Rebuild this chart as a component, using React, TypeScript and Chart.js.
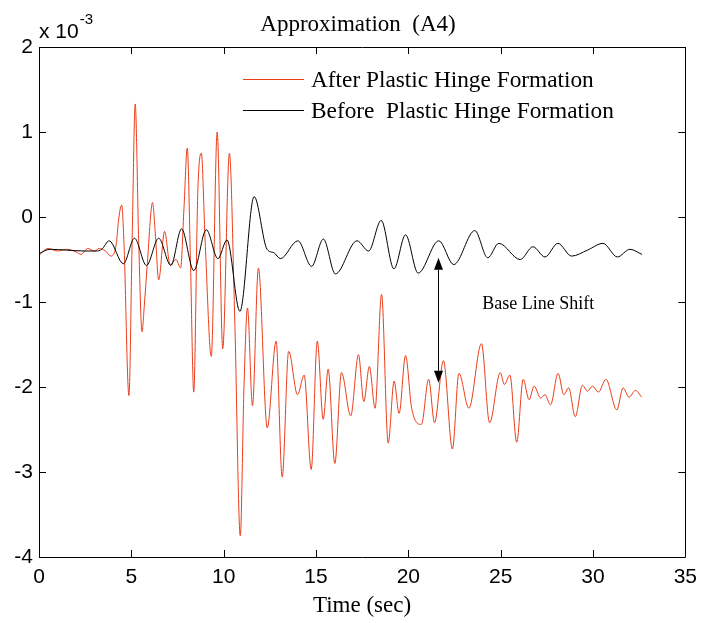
import React, { useEffect, useRef } from "react";
import { Chart, registerables } from "chart.js";

Chart.register(...registerables);

// [time (sec), value (x 10^-3)]
const afterHinge: [number, number][] = [
  [0, -0.45], [0.5, -0.37], [1.0, -0.4], [1.5, -0.38], [2.0, -0.41], [2.28, -0.44], [2.64, -0.37],
  [3.0, -0.4], [3.26, -0.37], [3.6, -0.4], [3.89, -0.46], [4.19, -0.31], [4.3, -0.05], [4.48, 0.14],
  [4.6, -0.3], [4.87, -2.1], [5.05, -0.2], [5.21, 1.33], [5.4, -0.3], [5.58, -1.35], [5.7, -1.05],
  [5.85, -0.6], [6.15, 0.17], [6.3, -0.2], [6.48, -0.74], [6.8, -0.17], [7.1, -0.56], [7.42, -0.5],
  [7.67, -0.6], [7.85, 0.1], [8.03, 0.81], [8.2, -0.5], [8.38, -2.06], [8.6, 0.3], [8.79, 0.75],
  [9.0, -0.3], [9.33, -1.64], [9.65, 1.0], [9.95, -1.55], [10.31, 0.75], [10.6, -1.2], [10.9, -3.75],
  [11.1, -2.0], [11.29, -1.07], [11.56, -2.22], [11.88, -0.6], [12.36, -2.48], [12.84, -1.46],
  [13.17, -3.06], [13.52, -1.58], [14.0, -2.09], [14.36, -1.86], [14.74, -2.97], [15.07, -1.46],
  [15.39, -2.38], [15.66, -1.79], [16.02, -2.9], [16.38, -1.83], [16.88, -2.34], [17.3, -1.62],
  [17.59, -2.17], [17.89, -1.76], [18.2, -2.25], [18.55, -0.91], [18.91, -2.66], [19.23, -1.93],
  [19.5, -2.31], [19.85, -1.63], [20.18, -2.25], [20.71, -2.44], [21.1, -1.91], [21.42, -2.42],
  [21.9, -1.69], [22.39, -2.73], [22.74, -1.84], [23.28, -2.25], [23.96, -1.49], [24.4, -2.42],
  [24.98, -1.83], [25.2, -1.97], [25.5, -1.86], [25.87, -2.65], [26.22, -1.91], [26.54, -2.15],
  [26.81, -1.99], [27.17, -2.13], [27.4, -2.09], [27.7, -2.21], [28.11, -1.84], [28.42, -2.09],
  [28.68, -2.01], [29.04, -2.35], [29.43, -1.98], [29.7, -2.05], [29.97, -1.99], [30.29, -2.06],
  [30.7, -1.91], [31.29, -2.27], [31.63, -2.01], [31.95, -2.12], [32.3, -2.04], [32.64, -2.12],
];

const beforeHinge: [number, number][] = [
  [0, -0.43], [0.59, -0.38], [1.5, -0.39], [2.5, -0.4], [3.09, -0.4], [3.4, -0.38], [3.8, -0.28],
  [4.57, -0.55], [5.17, -0.25], [5.82, -0.57], [6.48, -0.25], [7.14, -0.57], [7.72, -0.14],
  [8.38, -0.63], [9.06, -0.15], [9.69, -0.49], [10.18, -0.27], [10.88, -1.11], [11.65, 0.24],
  [12.35, -0.38], [12.72, -0.42], [13.07, -0.49], [14.02, -0.28], [14.76, -0.58], [15.4, -0.26],
  [16.05, -0.67], [17.22, -0.28], [17.85, -0.4], [18.53, -0.04], [19.22, -0.61], [19.85, -0.21],
  [20.53, -0.66], [21.65, -0.28], [22.46, -0.56], [23.6, -0.16], [24.3, -0.48], [24.9, -0.31],
  [26.06, -0.5], [26.75, -0.35], [27.4, -0.47], [28.1, -0.31], [28.84, -0.46], [29.7, -0.39],
  [30.54, -0.31], [31.32, -0.47], [32.0, -0.38], [32.65, -0.44],
];

const xTicks = [0, 5, 10, 15, 20, 25, 30, 35];
const yTicks = [-4, -3, -2, -1, 0, 1, 2];
const seriesNames = ["After Plastic Hinge Formation", "Before  Plastic Hinge Formation"];
const seriesColors = ["rgb(234,62,26)", "#000000"];
const titleText = "Approximation  (A4)";
const xAxisLabel = "Time (sec)";
const multiplierBase = "x 10";
const multiplierExp = "-3";
const arrowTime = 21.6;
const arrowTop = -0.48;
const arrowBottom = -1.95;
const noteText = "Base Line Shift";
const noteTime = 24.0;
const noteValue = -1.03;

const SANS = "'Liberation Sans', Arial, sans-serif";
const SERIF = "'Liberation Serif', 'Times New Roman', serif";

const decorPlugin = {
  id: "decor",
  afterDraw(chart: any) {
    const ctx = chart.ctx as CanvasRenderingContext2D;
    const { left, right, top, bottom } = chart.chartArea;
    const xs = chart.scales.x;
    const ys = chart.scales.y;
    ctx.save();
    // box
    ctx.strokeStyle = "#000";
    ctx.lineWidth = 1;
    ctx.beginPath();
    ctx.rect(Math.round(left) + 0.5, Math.round(top) + 0.5, Math.round(right - left), Math.round(bottom - top));
    ctx.stroke();
    // inward ticks
    const tl = 7;
    ctx.beginPath();
    xTicks.forEach((v) => {
      const px = Math.round(xs.getPixelForValue(v)) + 0.5;
      ctx.moveTo(px, bottom);
      ctx.lineTo(px, bottom - tl);
      ctx.moveTo(px, top);
      ctx.lineTo(px, top + tl);
    });
    yTicks.forEach((v) => {
      const py = Math.round(ys.getPixelForValue(v)) + 0.5;
      ctx.moveTo(left, py);
      ctx.lineTo(left + tl, py);
      ctx.moveTo(right, py);
      ctx.lineTo(right - tl, py);
    });
    ctx.stroke();

    // title
    ctx.fillStyle = "#000";
    ctx.font = `23px ${SERIF}`;
    ctx.textAlign = "center";
    ctx.textBaseline = "alphabetic";
    ctx.fillText(titleText, 358, 31);
    // x label
    ctx.font = `23px ${SERIF}`;
    ctx.fillText(xAxisLabel, 362, 612);
    // multiplier
    ctx.textAlign = "left";
    ctx.font = `21px ${SANS}`;
    ctx.fillText(multiplierBase, 39, 38);
    const w = ctx.measureText(multiplierBase).width;
    ctx.font = `15px ${SANS}`;
    ctx.fillText(multiplierExp, 39 + w + 1, 24);

    // legend
    ctx.font = `23.3px ${SERIF}`;
    const legendY = [79, 110];
    seriesNames.forEach((name, i) => {
      ctx.strokeStyle = seriesColors[i];
      ctx.lineWidth = 1;
      ctx.beginPath();
      ctx.moveTo(243, legendY[i] + 0.5);
      ctx.lineTo(304, legendY[i] + 0.5);
      ctx.stroke();
      ctx.fillStyle = "#000";
      ctx.fillText(name, 311, legendY[i] + 8);
    });

    // arrow
    const ax = Math.round(xs.getPixelForValue(arrowTime)) + 0.5;
    const ay1 = ys.getPixelForValue(arrowTop);
    const ay2 = ys.getPixelForValue(arrowBottom);
    const hl = 12;
    const hw = 4.5;
    ctx.strokeStyle = "#000";
    ctx.fillStyle = "#000";
    ctx.lineWidth = 1;
    ctx.beginPath();
    ctx.moveTo(ax, ay1 + hl);
    ctx.lineTo(ax, ay2 - hl);
    ctx.stroke();
    ctx.beginPath();
    ctx.moveTo(ax, ay1);
    ctx.lineTo(ax - hw, ay1 + hl);
    ctx.lineTo(ax + hw, ay1 + hl);
    ctx.closePath();
    ctx.fill();
    ctx.beginPath();
    ctx.moveTo(ax, ay2);
    ctx.lineTo(ax - hw, ay2 - hl);
    ctx.lineTo(ax + hw, ay2 - hl);
    ctx.closePath();
    ctx.fill();

    ctx.font = `18px ${SERIF}`;
    ctx.textAlign = "left";
    ctx.textBaseline = "middle";
    ctx.fillText(noteText, xs.getPixelForValue(noteTime), ys.getPixelForValue(noteValue));
    ctx.restore();
  },
};

export default function App() {
  const canvasRef = useRef<HTMLCanvasElement | null>(null);

  useEffect(() => {
    const canvas = canvasRef.current;
    if (!canvas) return;
    const chart = new Chart(canvas, {
      type: "line",
      data: {
        datasets: [
          {
            label: seriesNames[1],
            data: beforeHinge.map(([x, y]) => ({ x, y })),
            borderColor: seriesColors[1],
            borderWidth: 1,
            pointRadius: 0,
            cubicInterpolationMode: "monotone",
            fill: false,
          },
          {
            label: seriesNames[0],
            data: afterHinge.map(([x, y]) => ({ x, y })),
            borderColor: seriesColors[0],
            borderWidth: 1,
            pointRadius: 0,
            cubicInterpolationMode: "monotone",
            fill: false,
          },
        ],
      },
      options: {
        animation: false,
        responsive: false,
        devicePixelRatio: 1,
        layout: { padding: { left: 0, top: 47, right: 13, bottom: 0 } },
        plugins: {
          legend: { display: false },
          tooltip: { enabled: false },
          title: { display: false },
        },
        scales: {
          x: {
            type: "linear",
            min: 0,
            max: 35,
            afterBuildTicks: (s: any) => {
              s.ticks = xTicks.map((v) => ({ value: v }));
            },
            afterFit: (s: any) => {
              s.height = 66;
            },
            ticks: {
              font: { family: SANS, size: 21 },
              color: "#000",
              padding: 8,
              maxRotation: 0,
              autoSkip: false,
            },
            grid: { display: false, drawTicks: false },
            border: { display: false },
          },
          y: {
            type: "linear",
            min: -4,
            max: 2,
            afterBuildTicks: (s: any) => {
              s.ticks = yTicks.map((v) => ({ value: v }));
            },
            afterFit: (s: any) => {
              s.width = 39;
            },
            ticks: {
              font: { family: SANS, size: 21 },
              color: "#000",
              padding: 6,
              autoSkip: false,
            },
            grid: { display: false, drawTicks: false },
            border: { display: false },
          },
        },
      },
      plugins: [decorPlugin],
    } as any);
    return () => chart.destroy();
  }, []);

  return (
    <div style={{ position: "absolute", left: 0, top: 0, width: 705, height: 623, background: "#fff" }}>
      <canvas ref={canvasRef} width={705} height={623} style={{ display: "block" }} />
    </div>
  );
}
